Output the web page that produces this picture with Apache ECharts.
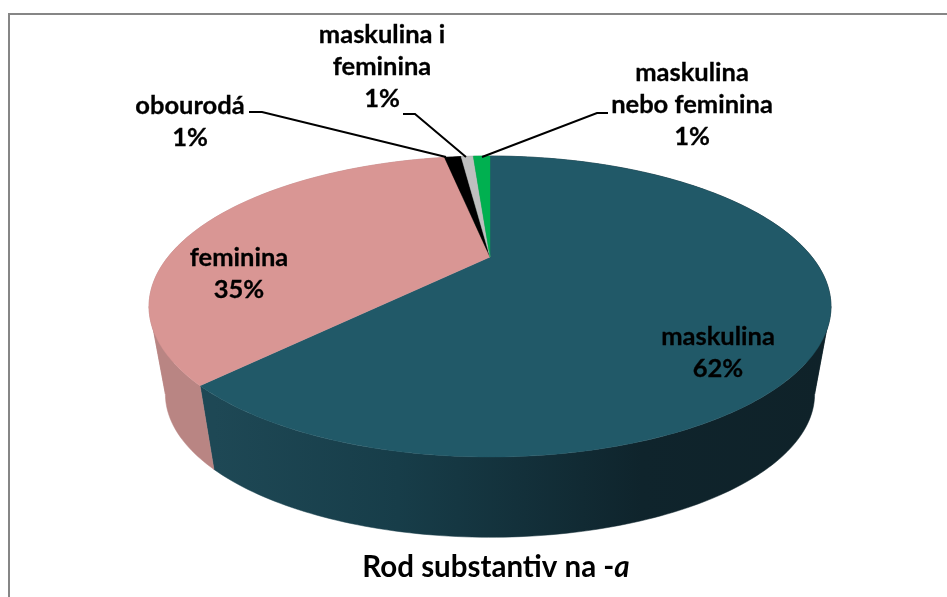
<!DOCTYPE html>
<html><head><meta charset="utf-8">
<style>html,body{margin:0;padding:0;background:#fff}#c{width:947px;height:597px}</style>
<script src="https://cdn.jsdelivr.net/npm/echarts@6/dist/echarts.min.js"></script>
</head><body><div id="c"></div>
<script>
const categories = ['maskulina','feminina','obourodá','maskulina i feminina','maskulina nebo feminina'];
const seriesValues = [62, 35, 1.1, 0.8, 1.1];
const titleText = 'Rod substantiv na -';
const titleItalic = 'a';

const topColors = ['#215968','#d99694','#000000','#bfbfbf','#00b050'];
const wallStops = [
  [[0,'#1e4855'],[0.3,'#173d49'],[0.7,'#0f242c'],[1,'#0f2229']],
  [[0,'#b98583'],[1,'#b47c7a']],
  [[0,'#000'],[1,'#000']],
  [[0,'#888'],[1,'#888']],
  [[0,'#007a38'],[1,'#007a38']]
];
const labelLayout = [
  {lines:['maskulina'], x:718, y:337},
  {lines:['feminina'], x:239, y:258},
  {lines:['obourodá'], x:190, y:106, leader:[[249,112],[262,112],[446,157]]},
  {lines:['maskulina i','feminina'], x:382, y:35, leader:[[403,114],[415,114],[466,157]]},
  {lines:['maskulina','nebo feminina'], x:692, y:73, leader:[[608,113],[597,113],[482,157]]}
];
const geo = {ax:490, ay:257, k:0.329, b:134.2, c:322, ecy:306.5, wallScale:0.952, wallCy:394};

const total = seriesValues.reduce((a,b)=>a+b,0);
const starts = [];
seriesValues.reduce((acc,v,i)=>{starts[i]=acc;return acc+v/total*Math.PI*2;},0);
const endOf = i => starts[i] + seriesValues[i]/total*Math.PI*2;
const tangentR = Math.acos(-geo.k), tangentL = Math.PI*2 - tangentR;

function topPt(t){
  const X=Math.sin(t),Y=Math.cos(t),d=1+geo.k*Y;
  return [geo.ax+geo.c*X/d, geo.ay-geo.b*Y/d];
}
function lowPt(t){
  const p=topPt(t);
  return [geo.ax+(p[0]-geo.ax)*geo.wallScale, geo.wallCy+(p[1]-geo.ecy)*geo.wallScale];
}
function wallGrad(i){
  return {type:'linear',x:215,y:0,x2:825,y2:0,global:true,
    colorStops:wallStops[i].map(s=>({offset:s[0],color:s[1]}))};
}
function arcAngles(a,b,step){
  const n=Math.max(2,Math.ceil((b-a)/step)),out=[];
  for(let j=0;j<=n;j++) out.push(a+(b-a)*j/n);
  return out;
}
function wallRanges(i){
  const cuts=[starts[i]];
  [tangentR,tangentL].forEach(t=>{if(t>starts[i]&&t<endOf(i))cuts.push(t);});
  cuts.push(endOf(i));
  return cuts.slice(0,-1).map((c,n)=>[c,cuts[n+1]]);
}
const chartData = seriesValues.map((v,i)=>({name:categories[i],value:v}));

const chart = echarts.init(document.getElementById('c'),null,{renderer:'canvas'});
chart.setOption({
  animation:false,
  backgroundColor:'#ffffff',
  title:{
    text:'{a|'+titleText+'}{b|'+titleItalic+'}',
    left:496, top:567, textAlign:'center', textVerticalAlign:'middle', padding:0,
    textStyle:{rich:{
      a:{fontFamily:'Lato',fontWeight:'bold',fontSize:29.5,color:'#000'},
      b:{fontFamily:'Lato',fontWeight:'bold',fontStyle:'italic',fontSize:29.5,color:'#000'}
    }}
  },
  graphic:[{type:'rect',silent:true,z:-10,
    shape:{x:9,y:14,width:1200,height:1000},
    style:{fill:'#fff',stroke:'#868686',lineWidth:2}}],
  series:[
    {type:'custom',name:'walls',coordinateSystem:'none',silent:true,z:2,data:chartData,
     renderItem(params){
       const i=params.dataIndex, g=wallGrad(i);
       const ch=wallRanges(i).map(r=>{
         const ts=arcAngles(r[0],r[1],Math.PI/180);
         const pts=ts.map(topPt).concat(ts.slice().reverse().map(lowPt));
         return {type:'polygon',shape:{points:pts},style:{fill:g,stroke:g,lineWidth:0.5}};
       });
       return {type:'group',children:ch};
     }},
    {type:'custom',name:'tops',coordinateSystem:'none',silent:true,z:3,data:chartData,
     renderItem(params){
       const i=params.dataIndex;
       const pts=[[geo.ax,geo.ay]].concat(arcAngles(starts[i],endOf(i),Math.PI/180).map(topPt));
       return {type:'polygon',shape:{points:pts},style:{fill:topColors[i],stroke:topColors[i],lineWidth:0.4}};
     }},
    {type:'custom',name:'labels',coordinateSystem:'none',silent:true,z:4,data:chartData,
     renderItem(params){
       const i=params.dataIndex,l=labelLayout[i],ch=[];
       const pct=Math.round(seriesValues[i]/total*100)+'%';
       l.lines.concat([pct]).forEach((s,n)=>ch.push({type:'text',
         style:{text:s,x:l.x,y:l.y+n*32,align:'center',verticalAlign:'middle',
           fontFamily:'Lato',fontWeight:'bold',fontSize:25.5,fill:'#000',stroke:'#000',lineWidth:0.3}}));
       if(l.leader) ch.push({type:'polyline',shape:{points:l.leader},
         style:{fill:'none',stroke:'#000',lineWidth:2}});
       return {type:'group',children:ch};
     }}
  ]
});
</script></body></html>
